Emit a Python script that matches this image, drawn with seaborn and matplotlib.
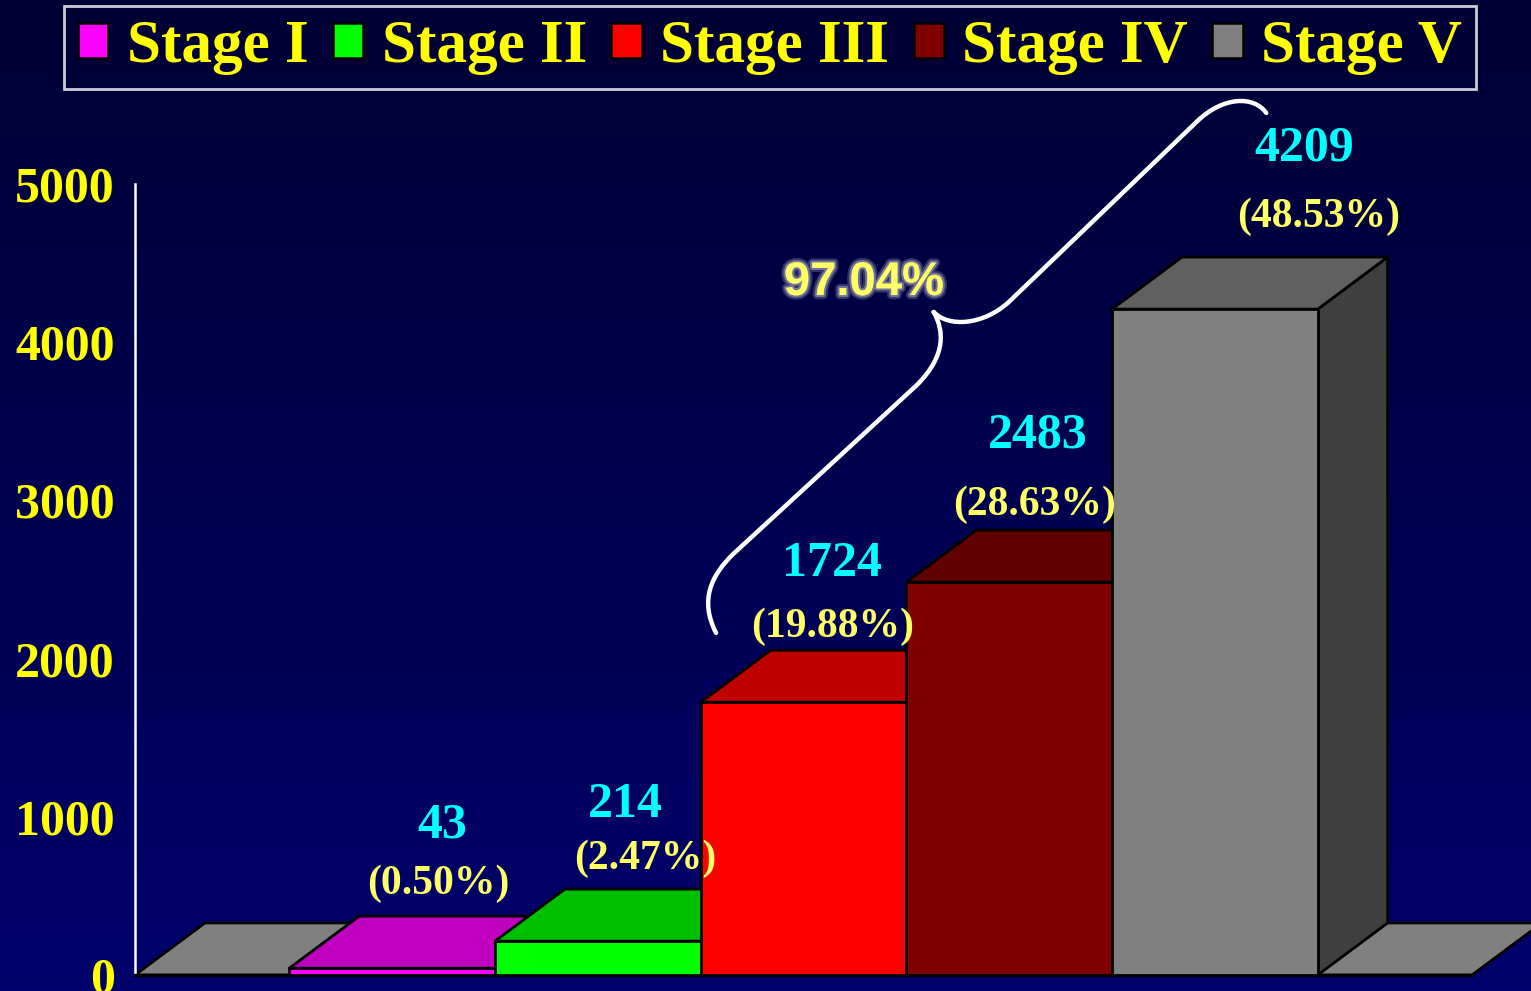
import numpy as np
import matplotlib.pyplot as plt
import seaborn as sns
from matplotlib.patches import Polygon, Patch, PathPatch
from matplotlib.path import Path
from matplotlib.colors import LinearSegmentedColormap
import matplotlib.patheffects as pe

# data
stages = ['Stage I', 'Stage II', 'Stage III', 'Stage IV', 'Stage V']
counts = [43, 214, 1724, 2483, 4209]
y_ticks = [0, 1000, 2000, 3000, 4000, 5000]

total = sum(counts)
pcts = [c / total * 100 for c in counts]

# colours of the three visible faces of each bar
front_colors = ['#FF00FF', '#00FF00', '#FF0000', '#800000', '#808080']
top_colors = ['#BF00BF', '#00BF00', '#BF0000', '#600000', '#606060']
side_colors = ['#800080', '#008000', '#800000', '#400000', '#404040']

# label nudges (pixels) relative to the back-top edge of each bar
count_dx = [50, 28, 28, 29, 89]
count_dy = [91, 84, 86, 95, 109]
pct_dx = [46, 47, 29, 25, 104]
pct_dy = [32, 30, 23, 25, 40]

sns.set_style('white')
plt.rcParams['font.family'] = ['Liberation Serif', 'DejaVu Serif']
plt.rcParams['font.weight'] = 'bold'

W, H = 1531, 991
fig = plt.figure(figsize=(W / 100, H / 100), dpi=100)

# navy gradient background
bg = fig.add_axes([0, 0, 1, 1], zorder=-10)
cmap = LinearSegmentedColormap.from_list('navy', ['#000034', '#00006C'])
bg.imshow(np.linspace(0, 1, 256).reshape(-1, 1), aspect='auto', cmap=cmap,
          extent=[0, 1, 0, 1], origin='upper')
bg.axis('off')

ax = fig.add_axes([135 / W, 16 / H, 1337 / W, 791 / H])
ax.patch.set_alpha(0)

xlim = (-1.25, 5.25)
ddx, ddy = 0.34, 329  # depth offset in data units

sns.barplot(x=stages, y=counts, hue=stages, palette=front_colors, width=1,
            saturation=1, edgecolor='black', linewidth=2, legend=False, ax=ax)
ax.set_xlim(*xlim)
ax.set_ylim(0, 5000)
bars = sorted(ax.patches, key=lambda p: p.get_x())

# grey floor
floor = Polygon([(xlim[0], 0), (xlim[1], 0), (xlim[1] + ddx, ddy),
                 (xlim[0] + ddx, ddy)], closed=True, facecolor='#808080',
                edgecolor='black', lw=2, zorder=1, clip_on=False)
ax.add_patch(floor)

for i, bar in enumerate(bars):
    x0, w, h = bar.get_x(), bar.get_width(), bar.get_height()
    bar.set_zorder(3 * i + 3)
    bar.set_clip_on(False)
    top = Polygon([(x0, h), (x0 + w, h), (x0 + w + ddx, h + ddy), (x0 + ddx, h + ddy)],
                  closed=True, facecolor=top_colors[i], edgecolor='black', lw=2,
                  zorder=3 * i + 2, clip_on=False)
    side = Polygon([(x0 + w, 0), (x0 + w + ddx, ddy), (x0 + w + ddx, h + ddy), (x0 + w, h)],
                   closed=True, facecolor=side_colors[i], edgecolor='black', lw=2,
                   zorder=3 * i + 2, clip_on=False)
    ax.add_patch(side)
    ax.add_patch(top)
    cx = x0 + w / 2
    ax.annotate(f'{counts[i]}', xy=(cx, h + ddy), xytext=(count_dx[i], count_dy[i]),
                textcoords='offset pixels', ha='center', va='center', color='#00FFFF',
                fontsize=36, fontweight='bold', annotation_clip=False, zorder=30)
    ax.annotate(f'({pcts[i]:.2f}%)', xy=(cx, h + ddy), xytext=(pct_dx[i], pct_dy[i]),
                textcoords='offset pixels', ha='center', va='center', color='#FFFF66',
                fontsize=30, fontweight='bold', annotation_clip=False, zorder=30)

# brace spanning Stage III..Stage V
verts = [(1.575, 2162), (1.493, 2370), (1.551, 2528), (1.663, 2667),
         (2.551, 3729),
         (2.697, 3919), (2.682, 4077), (2.633, 4191),
         (2.633, 4191),
         (2.706, 4090), (2.876, 4109), (2.998, 4254),
         (3.920, 5404),
         (4.041, 5550), (4.187, 5562), (4.250, 5449)]
codes = [Path.MOVETO, Path.CURVE4, Path.CURVE4, Path.CURVE4,
         Path.LINETO,
         Path.CURVE4, Path.CURVE4, Path.CURVE4,
         Path.MOVETO,
         Path.CURVE4, Path.CURVE4, Path.CURVE4,
         Path.LINETO,
         Path.CURVE4, Path.CURVE4, Path.CURVE4]
ax.add_patch(PathPatch(Path(verts, codes), facecolor='none', edgecolor='white',
                       lw=3.2, capstyle='round', zorder=40, clip_on=False))
ax.text(2.294, 4374, f'{sum(pcts[2:]):.2f}%', ha='center', va='center',
        color='#FFFF66', fontsize=34, fontweight='bold',
        family=['Liberation Sans', 'DejaVu Sans'], zorder=41,
        path_effects=[pe.Stroke(linewidth=6, foreground='#9090b0', alpha=0.35),
                      pe.Stroke(linewidth=3, foreground='#a0a0b8', alpha=0.6),
                      pe.Normal()])

# axes styling
ax.set_xticks([])
ax.set_yticks(y_ticks)
ax.set_xlabel('')
ax.set_ylabel('')
for s in ['top', 'right']:
    ax.spines[s].set_visible(False)
ax.spines['left'].set_color('white')
ax.spines['left'].set_linewidth(1.8)
ax.spines['bottom'].set_color('black')
ax.spines['bottom'].set_linewidth(2.4)
ax.tick_params(axis='y', colors='white', length=10.5, width=1.8, pad=4,
               labelcolor='#FFFF00', labelsize=36)

handles = [Patch(facecolor=c, edgecolor='black', lw=1.8) for c in front_colors]
leg = fig.legend(handles, stages, loc='upper center', bbox_to_anchor=(770 / W, 1 - 6 / H),
                 ncol=5, frameon=True, fancybox=False, edgecolor='white', facecolor='none',
                 fontsize=44, labelcolor='#FFFF00', handlelength=0.5, handleheight=0.5,
                 handletextpad=0.3, columnspacing=0.4, borderpad=0.22, borderaxespad=0)
leg.get_frame().set_linewidth(2)

fig.savefig('out.png', dpi=100)
